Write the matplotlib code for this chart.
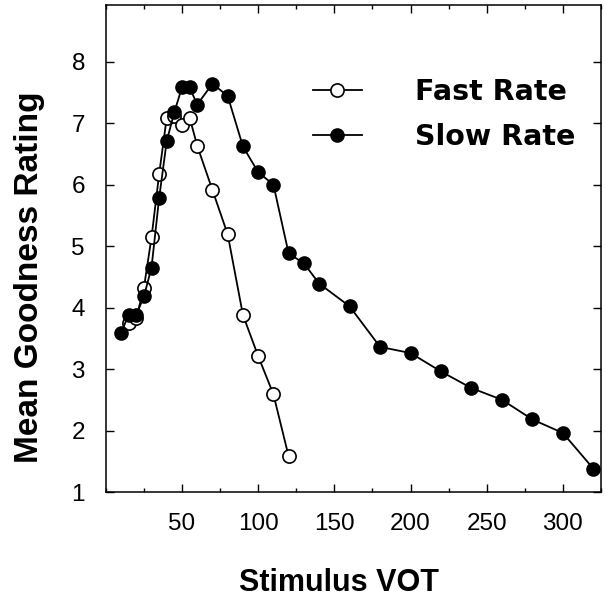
import numpy as np
import matplotlib
matplotlib.use('Agg')
import matplotlib.pyplot as plt
from matplotlib.ticker import MultipleLocator

plt.rcParams['font.family'] = 'Liberation Sans'

## Data
fast_vot = [15, 20, 25, 30, 35, 40, 45, 50, 55, 60, 70, 80, 90, 100, 110, 120]
fast_rating = [3.75, 3.83, 4.32, 5.14, 6.17, 7.09, 7.12, 6.97, 7.09, 6.63,
               5.91, 5.19, 3.88, 3.21, 2.59, 1.58]

slow_vot = [10, 15, 20, 25, 30, 35, 40, 45, 50, 55, 60, 70, 80, 90, 100, 110,
            120, 130, 140, 160, 180, 200, 220, 240, 260, 280, 300, 320]
slow_rating = [3.59, 3.88, 3.88, 4.18, 4.65, 5.78, 6.71, 7.18, 7.58, 7.58,
               7.30, 7.64, 7.44, 6.62, 6.20, 6.00, 4.88, 4.72, 4.39, 4.02,
               3.36, 3.26, 2.96, 2.69, 2.50, 2.18, 1.96, 1.38]

x_ticks = [50, 100, 150, 200, 250, 300]
y_ticks = [1, 2, 3, 4, 5, 6, 7, 8]

fig = plt.figure(figsize=(6.06, 6.02), dpi=100)
ax = fig.add_axes([0.1746, 0.1827, 0.8171, 0.809])

ax.plot(fast_vot, fast_rating, '-o', color='black', lw=1.3, ms=9.5,
        mfc='white', mec='black', mew=1.2, label='Fast Rate', zorder=2)
ax.plot(slow_vot, slow_rating, '-o', color='black', lw=1.3, ms=9.5,
        mfc='black', mec='black', label='Slow Rate', zorder=3)

ax.set_xlim(0, 325)
ax.set_ylim(1, 8.92)
ax.set_xticks(x_ticks)
ax.xaxis.set_minor_locator(MultipleLocator(25))
ax.set_yticks(y_ticks)
ax.tick_params(which='both', direction='in', top=True, right=True, width=1,
               labelsize=17.5)
ax.tick_params(which='major', length=6)
ax.tick_params(which='minor', length=3)
ax.tick_params(axis='x', pad=15)
ax.tick_params(axis='y', pad=15)
for s in ax.spines.values():
    s.set_linewidth(1.1)

ax.set_xlabel('Stimulus VOT', fontsize=22, fontweight='bold')
ax.set_ylabel('Mean Goodness Rating', fontsize=24, fontweight='bold')
ax.xaxis.set_label_coords(0.47, -0.156)
ax.yaxis.set_label_coords(-0.123, 0.44)

leg = ax.legend(loc='upper left', bbox_to_anchor=(0.418, 0.85), frameon=False,
                prop={'family': 'DejaVu Sans', 'size': 20.5, 'weight': 'bold'},
                handlelength=1.72, handletextpad=1.86, labelspacing=0.6,
                borderpad=0, borderaxespad=0)

fig.savefig('out.png', dpi=100)
